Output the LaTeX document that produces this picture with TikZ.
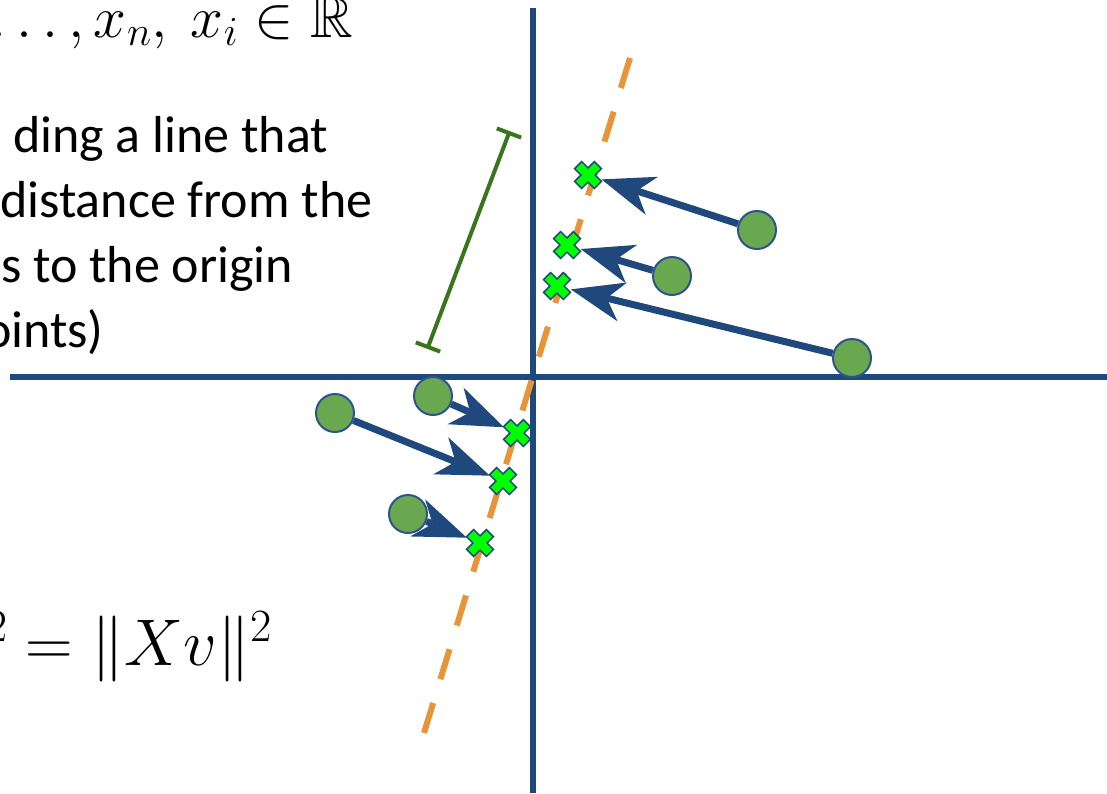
\documentclass[tikz,border=0pt]{standalone}
\usepackage{fix-cm}
\usepackage{amssymb}
\usepackage{fontspec}
\setmainfont{Carlito}
\usetikzlibrary{arrows.meta,calc}
\definecolor{axisblue}{HTML}{1F497D}
\definecolor{ptgreen}{HTML}{6AA84F}
\definecolor{ptborder}{HTML}{2F528F}
\definecolor{linorange}{HTML}{E8943A}
\definecolor{brgreen}{HTML}{38761D}
\definecolor{xgreen}{HTML}{00FF00}
\begin{document}
\begin{tikzpicture}[x=1pt,y=-1pt,
  axisline/.style={draw=axisblue,line width=6pt},
  pcline/.style={draw=linorange,line width=6pt,dash pattern=on 31.4pt off 24.8pt},
  datapt/.style={circle,fill=ptgreen,draw=ptborder,line width=2pt,minimum size=38pt,inner sep=0pt},
  projpt/.style={circle,minimum size=28pt,inner sep=0pt},
  projarrow/.style={draw=axisblue,line width=7pt,-{Stealth[length=53pt,width=40pt,inset=16pt,line width=0pt]}},
  crossmark/.style={fill=xgreen,draw=axisblue,line width=1.5pt,line join=miter},
  distbar/.style={draw=brgreen,line width=4pt},
  txtline/.style={inner sep=0pt,anchor=base west,font=\fontsize{52}{60}\selectfont},
  mathtop/.style={inner sep=0pt,anchor=base east,font=\fontsize{59}{60}\selectfont},
  mathbot/.style={inner sep=0pt,anchor=base east,font=\fontsize{66}{70}\selectfont},
]
\useasboundingbox (0,0) rectangle (1107,793);
\clip (0,0) rectangle (1107,793);

% text
\node[mathtop] (f1) at (353,37) {$\mathinner{\ldotp\ldotp\ldotp},x_n,\ x_i\in\mathbb{R}$};
\node[txtline] (t1) at (13,152) {ding a line that};
\node[txtline] (t2) at (0,217) {distance from the};
\node[txtline] (t3) at (1,282) {s to the origin};
\node[txtline,anchor=base east] (t4) at (104,347) {oints)};
\node[mathbot] (f2) at (272,665) {${}^2=\|Xv\|^2$};

% axes
\coordinate (hl) at (10,377);
\coordinate (hr) at (1107,377);
\coordinate (vt) at (533,8);
\coordinate (vb) at (533,793);
\draw[axisline] (hl) -- (hr);
\draw[axisline] (vt) -- (vb);

% principal direction
\coordinate (lb) at (424,733);
\coordinate (lt) at (630,58);
\draw[pcline] (lb) -- (lt);

% distance bracket
\coordinate (ga) at (428,347);
\coordinate (gb) at (509,133);
\draw[distbar] (ga) -- (gb);
\draw[distbar] ($(ga)!13pt!90:(gb)$) -- ($(ga)!13pt!-90:(gb)$);
\draw[distbar] ($(gb)!13pt!90:(ga)$) -- ($(gb)!13pt!-90:(ga)$);

% points
\node[datapt] (p1) at (757,230) {};
\node[datapt] (p2) at (672,276) {};
\node[datapt] (p3) at (852,358) {};
\node[datapt] (p4) at (433,396) {};
\node[datapt] (p5) at (335,413) {};
\node[datapt] (p6) at (408,514) {};
\node[projpt] (q1) at (588,175) {};
\node[projpt] (q2) at (567,245) {};
\node[projpt] (q3) at (557,286) {};
\node[projpt] (q4) at (517,433) {};
\node[projpt] (q5) at (503,481) {};
\node[projpt] (q6) at (480,543) {};

% projections
\foreach \i in {1,...,6} {
  \draw[projarrow] (p\i) -- (q\i);
}
\foreach \i in {1,...,6} {
  \begin{scope}[shift={(q\i)},rotate=45]
    \draw[crossmark] (5,14) -- (5,5) -- (14,5) -- (14,-5) -- (5,-5) -- (5,-14)
      -- (-5,-14) -- (-5,-5) -- (-14,-5) -- (-14,5) -- (-5,5) -- (-5,14) -- cycle;
  \end{scope}
}
\end{tikzpicture}
\end{document}
